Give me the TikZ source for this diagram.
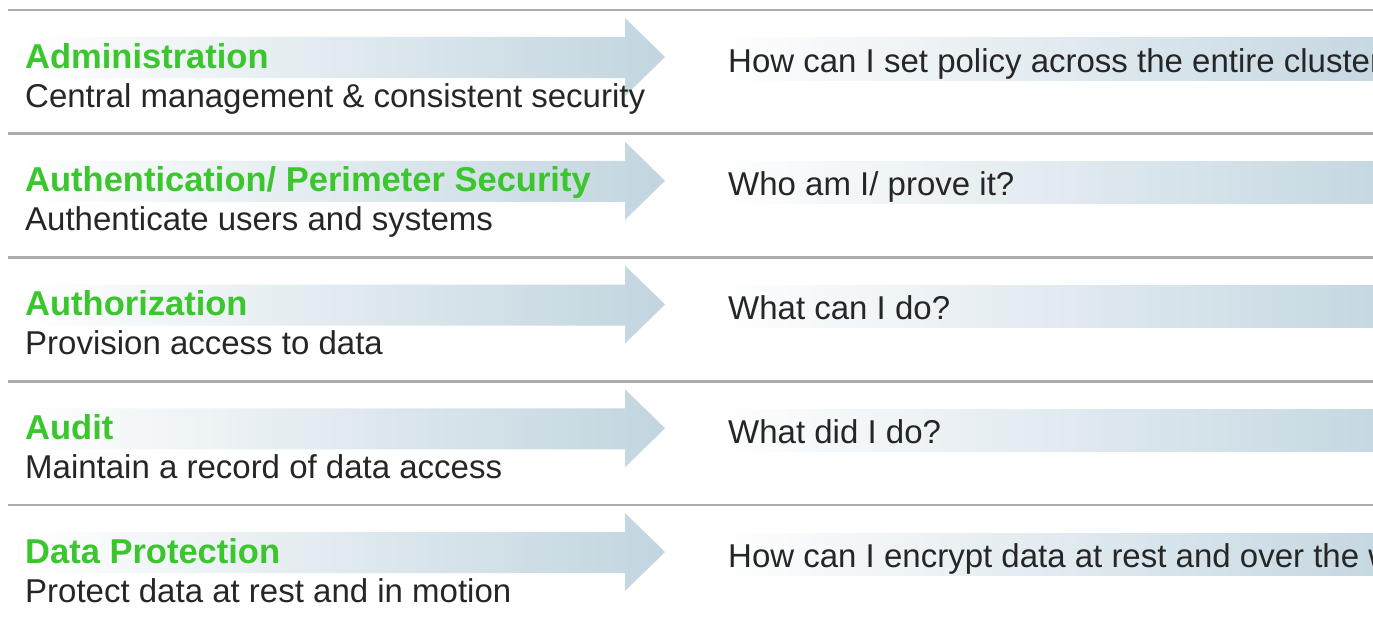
\documentclass[tikz,border=0pt]{standalone}
\usepackage{fontspec}
\setmainfont{Liberation Sans}
\definecolor{hdgreen}{RGB}{58,198,44}
\definecolor{arrowblue}{RGB}{194,213,223}
\definecolor{bandblue}{RGB}{198,216,226}
\definecolor{sepgray}{RGB}{172,172,172}
\tikzset{
  header/.style={anchor=base west, inner sep=0pt, text=hdgreen, font=\fontsize{34.5}{40}\selectfont\bfseries},
  subtext/.style={anchor=base west, inner sep=0pt, text=black!85, font=\fontsize{33}{40}\selectfont},
  question/.style={anchor=base west, inner sep=0pt, text=black!85, font=\fontsize{33}{40}\selectfont},
  sepline/.style={draw=sepgray, line width=2.6pt},
  arrowshade/.style={left color=white, right color=arrowblue, draw=none},
  bandshade/.style={left color=white, right color=bandblue, draw=none}
}
\begin{document}
\begin{tikzpicture}[x=1pt,y=-1pt]
\useasboundingbox (0,0) rectangle (1373,626);
\clip (0,0) rectangle (1373,626);
\fill[white] (0,0) rectangle (1373,626);
\foreach \i/\head/\sub/\q in {
  0/{Administration}/{Central management \& consistent security}/{How can I set policy across the entire cluster?},
  1/{Authentication/ Perimeter Security}/{Authenticate users and systems}/{Who am I/ prove it?},
  2/{Authorization}/{Provision access to data}/{What can I do?},
  3/{Audit}/{Maintain a record of data access}/{What did I do?},
  4/{Data Protection}/{Protect data at rest and in motion}/{How can I encrypt data at rest and over the wire?}}
{
  \pgfmathsetmacro{\yo}{10+123.75*\i}
  \draw[sepline] (8,\yo) -- (1373,\yo);
  \shade[arrowshade] (20,\yo+27) -- (625,\yo+27) -- (625,\yo+8) -- (665,\yo+47)
        -- (625,\yo+86) -- (625,\yo+68) -- (20,\yo+68) -- cycle;
  \shade[bandshade] (712,\yo+28) rectangle (1373,\yo+70);
  \node[header] (h\i) at (25,\yo+58) {\head};
  \node[subtext] (s\i) at (25,\yo+97) {\sub};
  \node[question] (q\i) at (728,\yo+62) {\q};
}
\end{tikzpicture}
\end{document}
